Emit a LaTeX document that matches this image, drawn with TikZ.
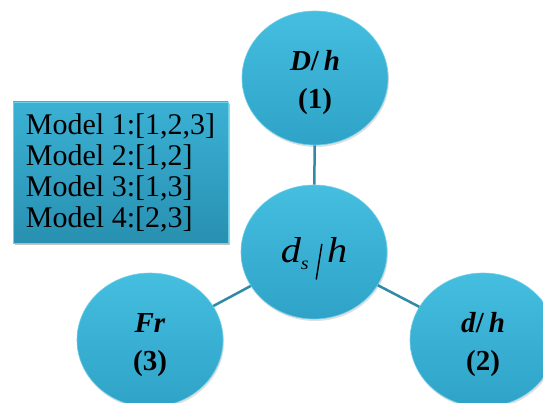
\documentclass[tikz,border=0pt]{standalone}
\usepackage{fontspec}
\usepackage{graphicx}
\setmainfont{Liberation Serif}
\usetikzlibrary{shapes.geometric,shadows}
\definecolor{bubtop}{HTML}{45BEE0}
\definecolor{bubbot}{HTML}{2EA3C7}
\definecolor{bubrim}{HTML}{6FD0EA}
\definecolor{boxtop}{HTML}{3BB1D4}
\definecolor{boxbot}{HTML}{2890B1}
\definecolor{linkcol}{HTML}{2E8AA6}
\tikzset{
  bubble/.style={ellipse, minimum width=146pt, minimum height=134pt, inner sep=0pt,
    top color=bubtop, bottom color=bubbot, draw=bubrim, line width=0.6pt,
    drop shadow={shadow xshift=1pt, shadow yshift=-2pt, opacity=0.25},
    align=center, font=\fontsize{29}{38}\selectfont\bfseries},
  modelbox/.style={rectangle, minimum width=215pt, minimum height=141pt,
    inner sep=0pt, top color=boxtop, bottom color=boxbot, draw=bubrim, line width=0.6pt,
    drop shadow={shadow xshift=2pt, shadow yshift=-2pt, opacity=0.45},
    align=left, font=\fontsize{30}{31}\selectfont},
  link/.style={draw=linkcol, line width=2.5pt}
}
\begin{document}
\begin{tikzpicture}[x=1pt,y=-1pt]
\useasboundingbox (0,0) rectangle (543,403);
\node[bubble] (top) at (315,78) {\rule{0pt}{30pt}\textit{D}/\,\textit{h}\\(1)};
\node[bubble, font=\fontsize{36}{36}\selectfont\itshape] (mid) at (314,252)
  {\rule{0pt}{38pt}\scalebox{1.12}[1]{d\raisebox{-7pt}{\fontsize{18}{18}\selectfont s}\hspace{6pt}\raisebox{-17pt}{\rotatebox{-8}{\rule{1.3pt}{36pt}}}\hspace{4pt}h}};
\node[bubble] (left) at (150,340) {\rule{0pt}{30pt}\textit{Fr}\\(3)};
\node[bubble] (right) at (483,340) {\rule{0pt}{30pt}\textit{d}/\,\textit{h}\\(2)};
\draw[link] (top) -- (mid);
\draw[link] (mid) -- (left);
\draw[link] (mid) -- (right);
\node[modelbox] (models) at (120.5,172.5) {Model 1:[1,2,3]\\Model 2:[1,2]\\Model 3:[1,3]\\Model 4:[2,3]};
\end{tikzpicture}
\end{document}
